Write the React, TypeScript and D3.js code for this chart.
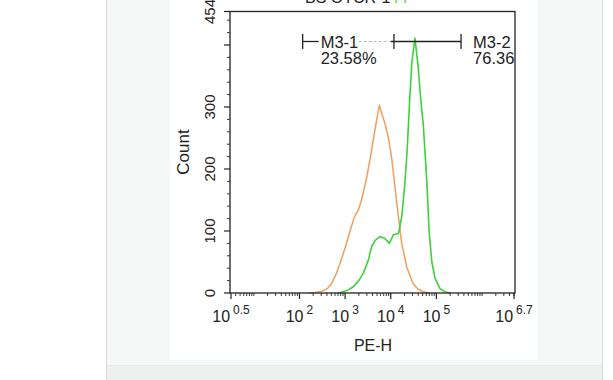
import React from "react";
import * as d3 from "d3";

// ---- data (log10 fluorescence, count) ----
const orangeLog = [2.2, 2.35, 2.5, 2.62, 2.7, 2.8, 2.9, 3.0, 3.1, 3.2, 3.29, 3.36, 3.47, 3.58, 3.65, 3.75, 3.8, 3.87, 3.95, 4.02, 4.09, 4.17, 4.24, 4.35, 4.49, 4.6, 4.71, 4.85];
const orangeCount = [0, 1, 3, 8, 15, 30, 50, 73, 98, 122, 134, 150, 185, 230, 262, 303, 290, 274, 250, 218, 172, 122, 80, 42, 15, 6, 2, 0];
const greenLog = [2.85, 2.96, 3.07, 3.18, 3.3, 3.4, 3.51, 3.58, 3.66, 3.76, 3.87, 3.97, 4.06, 4.17, 4.24, 4.31, 4.36, 4.41, 4.46, 4.53, 4.6, 4.64, 4.68, 4.71, 4.79, 4.84, 4.9, 4.97, 5.08, 5.19, 5.3];
const greenCount = [0, 2, 5, 10, 20, 32, 53, 75, 85, 91, 88, 80, 94, 96, 123, 177, 231, 305, 370, 411, 365, 327, 295, 274, 180, 100, 50, 24, 7, 2, 0];

const xTickExp = ["0.5", "2", "3", "4", "5", "6.7"];
const yTickLabels = [0, 100, 200, 300, 454];
const yMajor = [0, 100, 200, 300, 400, 454];

const gateNames = ["M3-1", "M3-2"];
const gatePct = ["23.58%", "76.36%"];
const gateLoLog = [2.07, 4.07];
const gateHiLog = [4.07, 5.54];

const titleText = "BS OTCR-1";

const FONT = "'Liberation Sans', Arial, Helvetica, sans-serif";

export default function App() {
  const W = 613, H = 380;
  const x = d3.scaleLog().domain([Math.pow(10, 0.5), Math.pow(10, 6.7)]).range([231, 514]);
  const y = d3.scaleLinear().domain([0, 454]).range([293, 11.5]);
  const left = 230, right = 515, top = 11.5, bottom = 293;

  const line = d3
    .line<[number, number]>()
    .x((d) => x(Math.pow(10, d[0])))
    .y((d) => y(d[1]));

  const orange = orangeLog.map((l, i) => [l, orangeCount[i]] as [number, number]);
  const green = greenLog.map((l, i) => [l, greenCount[i]] as [number, number]);

  // minor ticks
  const xMinor: number[] = [];
  for (let n = 0; n <= 6; n++) {
    for (let k = 1; k <= 9; k++) {
      const v = k * Math.pow(10, n);
      const lv = Math.log10(v);
      if (lv > 0.5 && lv < 6.7 && !(k === 1 && n >= 2 && n <= 5)) xMinor.push(v);
    }
  }
  const yMinor = d3.range(0, 455, 20).filter((v) => v % 100 !== 0);

  const ink = "#222";

  return (
    <svg width={W} height={H} style={{ position: "absolute", left: 0, top: 0 }} fontFamily={FONT}>
      <defs>
        <clipPath id="plotclip">
          <rect x={left} y={0} width={right - left - 1} height={bottom} />
        </clipPath>
      </defs>
      {/* page background */}
      <rect x={0} y={0} width={W} height={H} fill="#ffffff" />
      <rect x={106.5} y={-1} width={496} height={367} fill="#f5f6f6" stroke="#d9dbdb" />
      <rect x={107} y={366} width={495.5} height={14} fill="#eef0f0" />
      <line x1={106.5} x2={106.5} y1={366} y2={380} stroke="#d9dbdb" />
      <line x1={602.5} x2={602.5} y1={366} y2={380} stroke="#d9dbdb" />
      <rect x={170} y={0} width={367.5} height={360} fill="#ffffff" />

      {/* clipped title */}
      <text x={305} y={3} fontSize={16} fill={ink}>{titleText}</text>
      <text x={395} y={3} fontSize={16} fill="#3ccf3c">/ /</text>

      {/* curves */}
      <path d={line(orange) || ""} fill="none" stroke="#ee9f5e" strokeWidth={1.5} strokeLinejoin="round" />
      <path d={line(green) || ""} fill="none" stroke="#3fd03f" strokeWidth={1.6} strokeLinejoin="round" />

      {/* frame */}
      <rect x={left} y={top} width={right - left} height={bottom - top} fill="none" stroke={ink} strokeWidth={1.3} />

      {/* y ticks */}
      {yMajor.map((v) => (
        <line key={"ym" + v} x1={left} x2={left - 6} y1={y(v)} y2={y(v)} stroke={ink} strokeWidth={1.2} />
      ))}
      {yMinor.map((v) => (
        <line key={"yn" + v} x1={left} x2={left - 3} y1={y(v)} y2={y(v)} stroke={ink} strokeWidth={0.9} />
      ))}
      {yTickLabels.map((v) => (
        <text
          key={"yl" + v}
          transform={`translate(215,${y(v)}) rotate(-90)`}
          textAnchor="middle"
          fontSize={15}
          fill={ink}
        >
          {v}
        </text>
      ))}
      <text transform={`translate(189,152) rotate(-90)`} textAnchor="middle" fontSize={17} fill={ink}>
        Count
      </text>

      {/* x ticks */}
      {xTickExp.map((e) => {
        const v = Math.pow(10, parseFloat(e));
        return <line key={"xm" + e} x1={x(v)} x2={x(v)} y1={bottom} y2={bottom + 6} stroke={ink} strokeWidth={1.2} />;
      })}
      {xMinor.map((v, i) => (
        <line key={"xn" + i} x1={x(v)} x2={x(v)} y1={bottom} y2={bottom + 3} stroke={ink} strokeWidth={0.9} />
      ))}
      {xTickExp.map((e) => {
        const v = Math.pow(10, parseFloat(e));
        return (
          <text key={"xl" + e} x={x(v)} y={322} textAnchor="middle" fill={ink} fontSize={16}>
            10
            <tspan dx={3} dy={-8} fontSize={12}>{e}</tspan>
          </text>
        );
      })}
      <text x={373} y={351} textAnchor="middle" fontSize={16} fill={ink}>PE-H</text>

      {/* gates */}
      <g clipPath="url(#plotclip)">
        {gateNames.map((name, i) => {
          const x0 = x(Math.pow(10, gateLoLog[i]));
          const x1 = x(Math.pow(10, gateHiLog[i]));
          const gy = 41.5;
          return (
            <g key={name}>
              {i === 0 ? (
                <>
                  <line x1={x0} x2={x0 + 16} y1={gy} y2={gy} stroke={ink} strokeWidth={1.3} />
                  <line x1={x0 + 56} x2={x1 - 3} y1={gy} y2={gy} stroke="#b8b8b8" strokeWidth={1} strokeDasharray="3,2" />
                  <line x1={x0} x2={x0} y1={34} y2={49} stroke={ink} strokeWidth={1.3} />
                </>
              ) : (
                <>
                  <line x1={x0 - 3} x2={x1} y1={gy} y2={gy} stroke={ink} strokeWidth={1.3} />
                  <line x1={x0} x2={x0} y1={34} y2={49} stroke={ink} strokeWidth={1.3} />
                  <line x1={x1} x2={x1} y1={34} y2={49} stroke={ink} strokeWidth={1.3} />
                </>
              )}
              <text x={i === 0 ? x0 + 18 : x1 + 12} y={48} fontSize={16.5} fill={ink}>{name}</text>
              <text x={i === 0 ? x0 + 18 : x1 + 12} y={64} fontSize={16.5} fill={ink}>{gatePct[i]}</text>
            </g>
          );
        })}
      </g>
    </svg>
  );
}
